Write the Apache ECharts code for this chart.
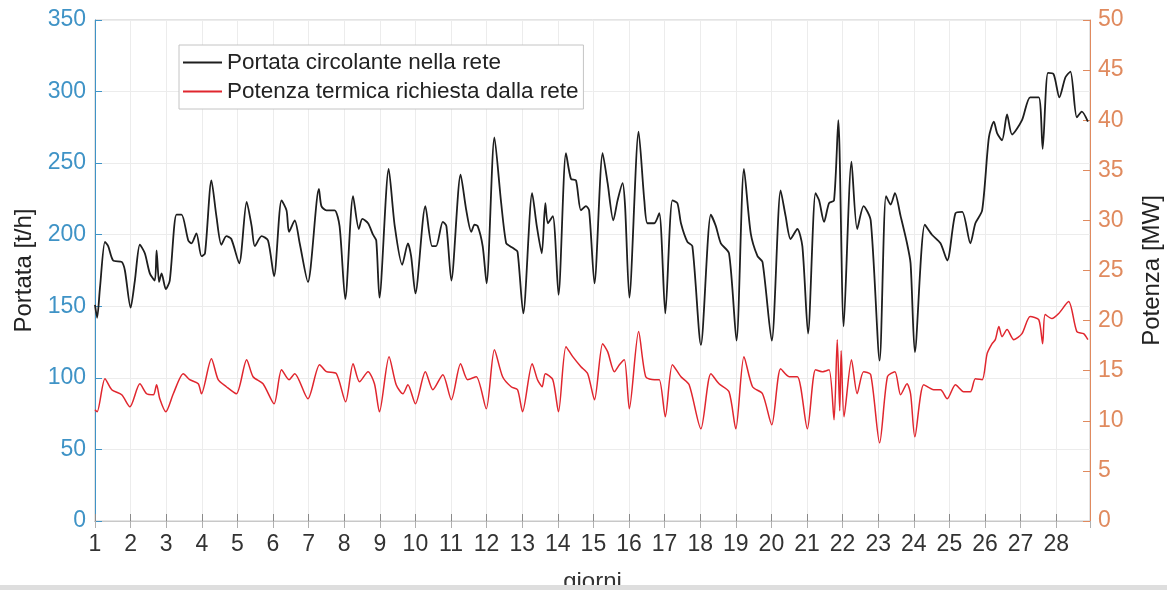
<!DOCTYPE html>
<html>
<head>
<meta charset="utf-8">
<script src="https://cdn.jsdelivr.net/npm/echarts@6/dist/echarts.min.js"></script>
<style>
html,body{margin:0;padding:0;background:#fff;}
#chart{width:1167px;height:590px;}
</style>
</head>
<body>
<div id="chart"></div>
<script>
// ---- Data ----
const seriesNames = ['Portata circolante nella rete', 'Potenza termica richiesta dalla rete'];
const xTickDays = [1,2,3,4,5,6,7,8,9,10,11,12,13,14,15,16,17,18,19,20,21,22,23,24,25,26,27,28];

// Portata [t/h] (left axis)
const portataDays = [1.0,1.06,1.14,1.28,1.37,1.51,1.75,1.84,2.00,2.12,
2.26,2.40,2.54,2.68,2.73,2.80,2.87,2.99,3.10,3.29,
3.43,3.62,3.71,3.85,3.99,4.09,4.27,4.41,4.55,4.69,
4.83,5.05,5.26,5.40,5.49,5.68,5.86,6.03,6.24,6.38,
6.45,6.61,6.75,6.98,7.29,7.36,7.50,7.73,7.87,8.03,
8.25,8.41,8.51,8.67,8.81,8.90,8.99,9.25,9.42,9.63,
9.79,9.88,10.00,10.28,10.47,10.58,10.77,10.87,11.01,11.27,
11.43,11.57,11.66,11.75,11.89,12.00,12.22,12.41,12.55,12.66,
12.78,12.87,13.03,13.28,13.41,13.55,13.65,13.72,13.86,14.02,
14.23,14.37,14.51,14.65,14.79,14.88,15.03,15.26,15.40,15.56,
15.68,15.82,15.89,16.01,16.27,16.43,16.52,16.71,16.85,17.02,
17.22,17.36,17.46,17.64,17.78,18.02,18.30,18.44,18.58,18.81,
19.02,19.23,19.42,19.61,19.75,20.01,20.26,20.40,20.54,20.73,
20.87,21.03,21.24,21.34,21.48,21.62,21.76,21.88,22.03,22.25,
22.41,22.59,22.79,23.04,23.22,23.35,23.47,23.63,23.81,23.91,
24.03,24.31,24.51,24.75,24.94,25.17,25.36,25.59,25.73,25.92,
26.11,26.25,26.34,26.48,26.62,26.76,27.04,27.27,27.51,27.62,
27.77,27.93,28.09,28.26,28.40,28.58,28.72,28.89];
const portataVals = [151,142,163,195,192,182,181,175,149,168,
193,187,173,168,189,167,173,162,168,214,
214,196,194,201,185,187,238,213,193,199,
197,180,223,206,192,199,196,171,224,217,
202,210,194,167,232,220,217,217,206,155,
227,204,211,208,200,196,156,246,206,179,
194,185,159,220,192,192,209,206,168,242,
217,202,207,206,192,166,268,222,194,192,
190,188,145,229,206,187,222,208,213,158,
257,239,238,217,220,217,166,257,236,210,
224,236,220,156,272,224,208,208,215,145,
224,222,208,195,192,123,214,206,194,187,
126,246,201,185,181,126,231,213,197,204,
192,131,229,224,209,222,224,280,136,251,
204,220,210,112,227,221,229,213,194,180,
118,207,200,194,182,215,216,194,208,217,
268,279,271,266,284,270,280,296,296,260,
313,312,296,310,314,282,286,279];

// Potenza [MW] (right axis)
const potenzaDays = [1.00,1.06,1.28,1.47,1.75,1.98,2.26,2.45,2.64,2.73,
2.82,2.99,3.20,3.48,3.66,3.90,3.99,4.27,4.46,4.69,
4.97,5.26,5.44,5.72,6.03,6.24,6.45,6.61,6.98,7.31,
7.50,7.78,8.04,8.25,8.43,8.67,8.85,8.99,9.26,9.46,
9.65,9.79,10.00,10.28,10.49,10.77,11.01,11.27,11.47,11.71,
11.99,12.22,12.45,12.69,12.87,13.01,13.28,13.43,13.56,13.65,
13.86,14.02,14.23,14.42,14.65,14.84,15.03,15.26,15.40,15.59,
15.73,15.87,16.01,16.27,16.47,16.71,16.85,17.02,17.22,17.46,
17.69,18.02,18.30,18.53,18.81,19.00,19.23,19.47,19.75,20.01,
20.26,20.50,20.73,21.01,21.24,21.43,21.62,21.76,21.85,21.92,
21.96,22.04,22.25,22.41,22.59,22.79,23.04,23.26,23.47,23.63,
23.81,23.91,24.03,24.28,24.56,24.75,24.94,25.17,25.40,25.59,
25.73,25.92,26.06,26.20,26.29,26.39,26.48,26.62,26.81,27.04,
27.27,27.51,27.62,27.69,27.88,28.07,28.35,28.58,28.77,28.89];
const potenzaVals = [11.1,10.9,14.2,13.1,12.6,11.4,13.7,12.7,12.6,13.6,
12.2,10.9,12.7,14.7,14.1,13.7,12.7,16.2,14.1,13.4,
12.7,16.1,14.4,13.7,11.7,15.1,14.1,14.7,12.2,15.6,
14.9,14.7,11.9,15.7,13.9,14.9,13.7,10.9,16.4,13.6,
12.7,13.6,11.7,14.9,13.1,14.6,12.1,15.7,14.1,14.4,
11.2,17.1,14.4,13.4,13.1,10.9,15.7,14.1,13.4,14.7,
14.1,10.9,17.4,16.4,15.4,14.7,12.1,17.7,16.9,14.9,
15.6,16.1,11.2,18.9,14.4,14.1,14.1,10.4,15.6,14.4,
13.6,9.2,14.7,13.7,12.9,9.2,16.4,13.4,12.7,9.6,
15.2,14.4,14.4,9.2,15.1,14.9,15.1,10.1,18.1,11.0,
17.0,10.4,16.1,12.7,14.9,14.6,7.8,14.4,14.9,12.6,
13.7,12.7,8.4,13.6,13.1,13.1,12.2,13.6,12.9,12.9,
14.2,14.1,16.7,17.7,18.1,19.4,18.4,19.1,18.1,18.7,
20.4,20.1,17.7,20.6,20.2,20.7,21.9,18.9,18.7,18.1];

// ---- Chart ----
const portataData = portataDays.map((d, i) => [d, portataVals[i]]);
const potenzaData = potenzaDays.map((d, i) => [d, potenzaVals[i]]);

const FONT = '"Liberation Sans", Arial, Helvetica, sans-serif';
const leftColor = '#3f93c6';
const rightColor = '#e08a5e';
const tickSet = new Set(xTickDays);

const chart = echarts.init(document.getElementById('chart'), null, {renderer: 'canvas'});
chart.setOption({
  animation: false,
  backgroundColor: '#ffffff',
  textStyle: {fontFamily: FONT},
  grid: {left: 95, right: 77, top: 20, bottom: 69, containLabel: false,
         outerBoundsMode: 'none',
         show: true, borderColor: '#c8c8c8', borderWidth: 1},
  legend: {
    show: true, orient: 'vertical', left: 179, top: 45,
    data: seriesNames.map(n => ({name: n, icon: 'rect'})),
    backgroundColor: '#ffffff', borderColor: '#c4c4c4', borderWidth: 1,
    padding: [6, 5, 6, 4], itemGap: 6, itemWidth: 39, itemHeight: 2,
    textStyle: {fontFamily: FONT, fontSize: 22.5, color: '#222', lineHeight: 23}
  },
  xAxis: [{
    type: 'value', min: 1, max: 28.95, interval: 1,
    name: 'giorni', nameLocation: 'middle', nameGap: 49,
    nameTextStyle: {fontFamily: FONT, fontSize: 24, color: '#333'},
    axisLine: {show: true, lineStyle: {color: '#8a8a8a', width: 1}},
    axisTick: {show: true, inside: true, length: 7, lineStyle: {color: '#8a8a8a'}},
    axisLabel: {fontFamily: FONT, fontSize: 23, color: '#333', margin: 12,
      showMaxLabel: false,
      formatter: v => (tickSet.has(Math.round(v)) && Math.abs(v - Math.round(v)) < 1e-6) ? String(Math.round(v)) : ''},
    splitLine: {show: true, lineStyle: {color: '#ececec', width: 1}}
  }, {
    type: 'value', position: 'top', min: 1, max: 28.95, interval: 1,
    axisLine: {show: true, lineStyle: {color: '#c8c8c8'}},
    axisTick: {show: true, inside: true, length: 7, lineStyle: {color: '#b0b0b0'}},
    axisLabel: {show: false}, splitLine: {show: false}
  }],
  yAxis: [{
    type: 'value', position: 'left', min: 0, max: 350, interval: 50,
    name: 'Portata [t/h]', nameLocation: 'middle', nameGap: 57, nameRotate: 90,
    nameTextStyle: {fontFamily: FONT, fontSize: 24, color: '#222'},
    axisLine: {show: true, lineStyle: {color: leftColor, width: 1}},
    axisTick: {show: true, inside: true, length: 7, lineStyle: {color: leftColor}},
    axisLabel: {fontFamily: FONT, fontSize: 23, color: leftColor, margin: 9},
    splitLine: {show: true, lineStyle: {color: '#ececec', width: 1}}
  }, {
    type: 'value', position: 'right', min: 0, max: 50, interval: 5,
    name: 'Potenza [MW]', nameLocation: 'middle', nameGap: 50, nameRotate: 90,
    nameTextStyle: {fontFamily: FONT, fontSize: 24, color: '#222'},
    axisLine: {show: true, lineStyle: {color: rightColor, width: 1}},
    axisTick: {show: true, inside: true, length: 7, lineStyle: {color: rightColor}},
    axisLabel: {fontFamily: FONT, fontSize: 23, color: rightColor, margin: 8},
    splitLine: {show: false}
  }],
  series: [{
    name: seriesNames[0], type: 'line', xAxisIndex: 0, yAxisIndex: 0,
    data: portataData, symbol: 'none', smooth: 0.25,
    lineStyle: {color: '#1e1e1e', width: 1.8}, itemStyle: {color: '#1e1e1e'}
  }, {
    name: seriesNames[1], type: 'line', xAxisIndex: 0, yAxisIndex: 1,
    data: potenzaData, symbol: 'none', smooth: 0.25,
    lineStyle: {color: '#e0262e', width: 1.5}, itemStyle: {color: '#e0262e'}
  }],
  graphic: [{
    type: 'rect', left: 0, top: 585, shape: {width: 1167, height: 5},
    style: {fill: '#dedede'}, z: 100
  }]
});
</script>
</body>
</html>
